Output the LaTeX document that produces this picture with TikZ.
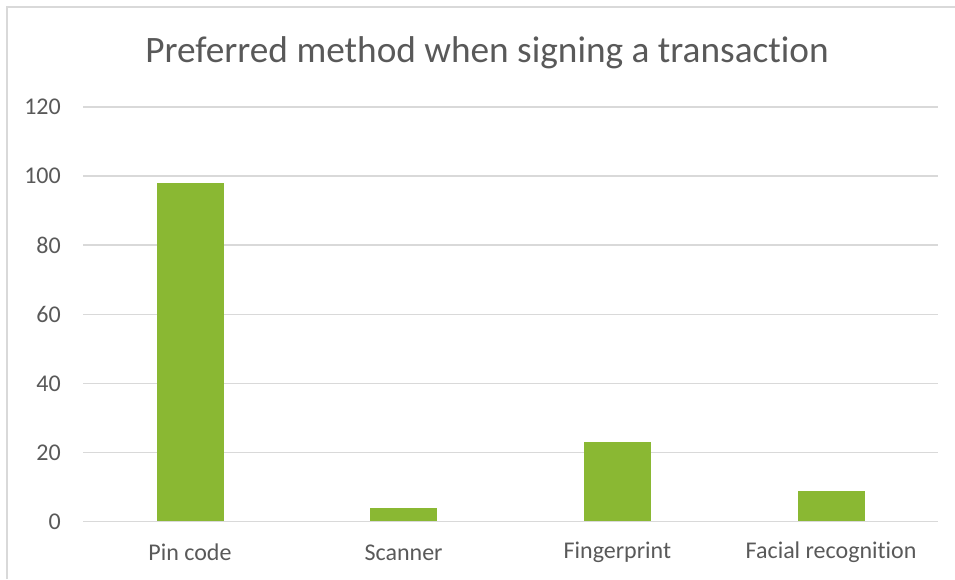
\documentclass[tikz,border=0pt]{standalone}
\usepackage{fontspec}
\setmainfont{Carlito}[Ligatures={NoCommon}]
\definecolor{txt}{HTML}{595959}
\definecolor{grid}{HTML}{D9D9D9}
\definecolor{bar}{HTML}{8AB833}
\begin{document}
\begin{tikzpicture}[x=1pt,y=-1pt,
  gridline/.style={draw=grid,line width=1.5pt},
  barbox/.style={fill=bar,draw=none},
  ticklab/.style={text=txt,font=\fontsize{24}{27}\selectfont,anchor=east,inner sep=0pt},
  catlab/.style={text=txt,font=\fontsize{24}{27}\selectfont,anchor=center,inner sep=0pt},
  titlelab/.style={text=txt,font=\fontsize{37.3}{42}\selectfont,anchor=center,inner sep=0pt}]
\useasboundingbox (0,0) rectangle (955,579);
% frame
\draw[gridline] (7,579) -- (7,7) -- (955,7);
% title
\node[titlelab] (title) at (487,53) {Preferred method when signing a transaction};
% grid and tick labels
\foreach \v in {0,20,...,120}{
  \pgfmathsetmacro{\yy}{521.7-\v*3.456}
  \draw[gridline] (83,\yy) -- (938,\yy);
  \node[ticklab] (t\v) at (61,\yy) {\v};
}
% bars
\foreach \c/\val/\nm/\lab in {190/98/pin/Pin code,403.6/4/scan/Scanner,617.4/23/fing/Fingerprint,831.1/9/face/Facial recognition}{
  \pgfmathsetmacro{\top}{521.7-\val*3.456}
  \fill[barbox] (\c-33.5,521) rectangle (\c+33.5,\top);
  \node[catlab] (\nm) at (\c,552.5) {\lab};
}
\end{tikzpicture}
\end{document}
